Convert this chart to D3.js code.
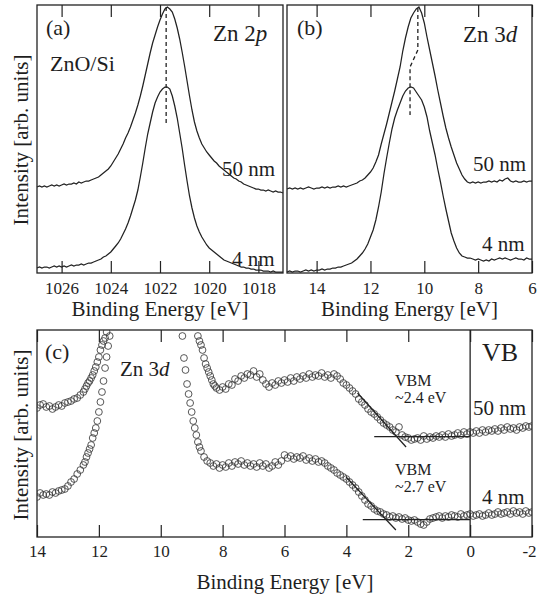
<!DOCTYPE html>
<html>
<head>
<meta charset="utf-8">
<script src="https://cdn.jsdelivr.net/npm/d3@7"></script>
<style>
  body { margin: 0; background: #fff; }
  svg text { font-family: "Liberation Serif", "Times New Roman", serif; fill: #1e1e1e; }
</style>
</head>
<body>
<svg id="chart" width="538" height="595" font-family="Liberation Serif, Times New Roman, serif"></svg>
<script>
// ---- data (intensity in arb. units) ----

// (a) Zn 2p, binding energy 1027.0 -> 1017.0 eV, step 0.1 eV
const zn2pStart = 1027.0, zn2pStep = -0.1;
const zn2p50nm = [
  86,87,86,87,86,87,88,87,88,87, 88,89,88,89,89,90,89,91,90,91,
  92,92,93,94,95,96,98,100,102,104, 107,111,115,119,124,129,135,140,146,153,
  160,168,177,187,198,209,220,230,238,246, 253,259,264,266,264,261,254,245,234,221,
  207,192,177,163,151,142,135,129,125,121, 118,115,112,110,107,105,103,101,99,97,
  95,94,92,91,89,88,87,86,85,84, 84,83,83,82,83,82,81,82,81,81, 80
];
const zn2p4nm = [
  5,6,5,6,6,5,6,7,6,7, 6,7,6,7,8,7,8,8,9,8,
  9,10,10,11,12,13,14,16,17,19, 21,24,27,30,34,39,44,50,57,65,
  73,83,96,110,125,139,150,161,170,176, 181,184,186,186,184,177,167,155,140,125,
  108,92,77,65,55,47,41,36,32,28, 25,23,21,19,17,15,13,12,11,10,
  9,8,7,6,6,5,5,4,4,3, 3,3,2,2,2,1,2,1,1,1, 1
];
const zn2pPeakLine = [[1021.75, 266], [1021.75, 148]];

// (b) Zn 3d, binding energy 15.1 -> 6.0 eV, step 0.1 eV
const zn3dStart = 15.1, zn3dStep = -0.1;
const zn3d50nm = [
  84,85,84,85,84,85,84,85,86,85, 84,85,85,86,85,86,85,86,86,87,
  86,87,86,87,88,89,90,92,93,95, 98,101,105,111,118,129,139,149,160,171,
  182,194,206,222,235,246,255,260,264,266, 260,250,236,223,210,197,183,170,157,145,
  135,126,118,110,104,98,94,91,90,91, 90,91,90,91,91,92,91,92,91,93,
  92,94,95,92,91,92,91,91,92,91, 92,92
];
const zn3d4nm = [
  1,2,1,2,2,1,2,3,2,3, 2,3,3,4,3,4,4,5,5,6,
  6,7,8,9,10,12,14,17,20,24, 29,36,43,53,66,81,99,115,130,144,
  155,163,170,177,182,185,186,185,181,177, 173,166,156,142,130,118,104,91,77,64,
  52,40,32,25,20,17,16,15,15,14, 13,14,13,12,13,12,14,13,14,15,
  14,15,14,13,14,15,14,14,13,15, 14,14
];
const zn3dPeakLine = [[10.24, 265], [10.24, 223], [10.53, 206], [10.53, 158]];

// (c) valence band, [binding energy, intensity]
const vb50nm = [
  [14.0,129],[13.9,132],[13.8,133],[13.7,130],[13.6,131],[13.5,128],[13.4,130],[13.3,132],[13.2,131],[13.1,134],
  [13.0,135],[12.9,136],[12.8,138],[12.7,139],[12.6,142],[12.5,145],[12.45,148],[12.4,151],[12.35,154],[12.3,156],
  [12.25,159],[12.2,162],[12.15,166],[12.1,170],[12.05,175],[12.0,180],[11.95,187],[11.9,192],[11.85,196],[11.8,199],[11.75,205],
  [8.8,201],[8.75,196],[8.7,192],[8.65,187],[8.6,179],[8.55,173],[8.5,169],[8.45,165],[8.4,161],[8.35,157],
  [8.3,153],[8.25,151],[8.2,149],[8.1,147],[8.0,150],[7.9,148],[7.8,153],[7.7,152],[7.6,158],[7.5,156],
  [7.4,161],[7.3,159],[7.2,163],[7.1,162],[7.0,166],[6.9,160],[6.8,163],[6.7,157],[6.6,153],[6.5,150],
  [6.4,154],[6.3,152],[6.2,156],[6.1,154],[6.0,157],[5.9,155],[5.8,159],[5.7,156],[5.6,160],[5.5,158],
  [5.4,161],[5.3,159],[5.2,163],[5.1,160],[5.0,162],[4.9,161],[4.8,164],[4.7,160],[4.6,162],[4.5,159],
  [4.4,163],[4.3,161],[4.2,158],[4.1,154],[4.0,152],[3.9,149],[3.8,146],[3.7,143],[3.6,138],[3.5,135],
  [3.4,132],[3.3,128],[3.2,125],[3.1,123],[3.0,120],[2.9,117],[2.8,114],[2.7,112],[2.6,110],[2.5,107],
  [2.4,105],[2.3,110],[2.2,102],[2.1,100],[2.0,99],[1.9,97],[1.8,98],[1.7,99],[1.6,97],[1.5,101],
  [1.4,98],[1.3,100],[1.2,99],[1.1,101],[1.0,100],[0.9,102],[0.8,100],[0.7,103],[0.6,101],[0.5,102],
  [0.4,104],[0.3,102],[0.2,105],[0.1,103],[0.0,105],[-0.1,104],[-0.2,106],[-0.3,104],[-0.4,107],[-0.5,105],
  [-0.6,107],[-0.7,106],[-0.8,108],[-0.9,106],[-1.0,109],[-1.1,107],[-1.2,110],[-1.3,108],[-1.4,109],[-1.5,107],
  [-1.6,110],[-1.7,109],[-1.8,111],[-1.9,110],[-2.0,111]
];
const vb4nm = [
  [14.0,40],[13.9,44],[13.8,42],[13.7,43],[13.6,42],[13.5,45],[13.4,44],[13.3,46],[13.2,47],[13.1,48],
  [13.0,51],[12.9,55],[12.8,58],[12.7,63],[12.6,67],[12.5,72],[12.45,75],[12.4,80],[12.35,84],[12.3,88],
  [12.25,92],[12.2,99],[12.15,104],[12.1,109],[12.05,116],[12.0,125],[11.95,135],[11.9,145],[11.85,156],[11.8,169],
  [11.75,180],[11.7,191],[11.65,201],
  [9.3,201],[9.25,179],[9.2,167],[9.15,153],[9.1,143],[9.05,134],[9.0,125],[8.95,116],[8.9,109],[8.85,102],
  [8.8,95],[8.75,90],[8.7,86],[8.6,80],[8.5,76],[8.4,74],[8.3,71],[8.2,73],[8.1,69],[8.0,72],
  [7.9,70],[7.8,74],[7.7,71],[7.6,75],[7.5,73],[7.4,76],[7.3,72],[7.2,74],[7.1,71],[7.0,73],
  [6.9,70],[6.8,74],[6.7,71],[6.6,73],[6.5,69],[6.4,71],[6.3,75],[6.2,72],[6.1,76],[6.0,82],
  [5.9,79],[5.8,81],[5.7,78],[5.6,80],[5.5,79],[5.4,81],[5.3,77],[5.2,79],[5.1,76],[5.0,78],
  [4.9,75],[4.8,76],[4.7,74],[4.6,71],[4.5,69],[4.4,67],[4.3,64],[4.2,62],[4.1,60],[4.0,58],
  [3.9,55],[3.8,52],[3.7,49],[3.6,45],[3.5,41],[3.4,37],[3.3,33],[3.2,31],[3.1,28],[3.0,26],
  [2.9,25],[2.8,23],[2.7,22],[2.6,20],[2.5,21],[2.4,19],[2.3,20],[2.2,18],[2.1,19],[2.0,17],
  [1.9,16],[1.8,17],[1.7,15],[1.6,13],[1.5,12],[1.4,15],[1.3,18],[1.2,19],[1.1,20],[1.0,21],
  [0.9,19],[0.8,21],[0.7,20],[0.6,22],[0.5,21],[0.4,20],[0.3,23],[0.2,21],[0.1,22],[0.0,23],
  [-0.1,21],[-0.2,22],[-0.3,23],[-0.4,21],[-0.5,22],[-0.6,24],[-0.7,22],[-0.8,23],[-0.9,25],[-1.0,23],
  [-1.1,24],[-1.2,25],[-1.3,23],[-1.4,26],[-1.5,24],[-1.6,25],[-1.7,23],[-1.8,26],[-1.9,24],[-2.0,25]
];
// linear fits used for the VBM estimate
const vbmFits = [
  [[3.64, 144], [2.07, 90]],
  [[3.10, 100.3], [0, 100.3]],
  [[4.01, 60], [2.40, 7]],
  [[3.47, 17.5], [0, 17.5]]
];

const zn2pTicks = [1026, 1024, 1022, 1020, 1018];
const zn3dTicks = [14, 12, 10, 8, 6];
const vbTicks = [14, 12, 10, 8, 6, 4, 2, 0, -2];

// ---- drawing ----
const ink = "#222";
const serif = "Liberation Serif, Times New Roman, serif";
const svg = d3.select("#chart");

function gridSeries(start, step, values) {
  return values.map((v, i) => [+(start + i * step).toFixed(2), v]);
}

function makePanel(box, xDomain, yDomain, ticks, tickPad) {
  const x = d3.scaleLinear().domain(xDomain).range([box.x0, box.x1]);
  const y = d3.scaleLinear().domain(yDomain).range([box.y1, box.y0]);

  svg.append("g")
    .attr("transform", `translate(0,${box.y1})`)
    .call(d3.axisBottom(x).tickValues(ticks).tickSize(-12).tickPadding(tickPad).tickFormat(d => String(d)))
    .call(g => g.select(".domain").remove())
    .call(g => g.selectAll("line").attr("stroke", ink).attr("stroke-width", 1.2))
    .call(g => g.selectAll("text").attr("font-size", 17).attr("font-family", serif).attr("fill", ink));

  svg.append("g")
    .attr("transform", `translate(0,${box.y0})`)
    .call(d3.axisTop(x).tickValues(ticks).tickSize(-12).tickFormat(""))
    .call(g => g.select(".domain").remove())
    .call(g => g.selectAll("line").attr("stroke", ink).attr("stroke-width", 1.2));

  svg.append("rect")
    .attr("x", box.x0).attr("y", box.y0)
    .attr("width", box.x1 - box.x0).attr("height", box.y1 - box.y0)
    .attr("fill", "none").attr("stroke", ink).attr("stroke-width", 1.3);

  return { x, y };
}

function drawLine(p, data, dash) {
  svg.append("path")
    .datum(data)
    .attr("fill", "none")
    .attr("stroke", ink)
    .attr("stroke-width", dash ? 1.3 : 1.25)
    .attr("stroke-dasharray", dash ? "4,3" : null)
    .attr("d", d3.line().x(d => p.x(d[0])).y(d => p.y(d[1])));
}

function label(x, y, size, parts, anchor) {
  const t = svg.append("text")
    .attr("x", x).attr("y", y)
    .attr("font-size", size)
    .attr("font-family", serif)
    .attr("text-anchor", anchor || "start");
  parts.forEach(part => {
    if (typeof part === "string") t.append("tspan").text(part);
    else t.append("tspan").attr("font-style", "italic").text(part.i);
  });
  return t;
}

// panel (a)
const pa = makePanel({ x0: 37, x1: 283, y0: 5, y1: 273 }, [1027, 1017], [0, 268], zn2pTicks, 9);
drawLine(pa, gridSeries(zn2pStart, zn2pStep, zn2p50nm));
drawLine(pa, gridSeries(zn2pStart, zn2pStep, zn2p4nm));
drawLine(pa, zn2pPeakLine, true);

// panel (b)
const pb = makePanel({ x0: 287, x1: 532, y0: 5, y1: 273 }, [15.1, 6], [0, 268], zn3dTicks, 9);
drawLine(pb, gridSeries(zn3dStart, zn3dStep, zn3d50nm));
drawLine(pb, gridSeries(zn3dStart, zn3dStep, zn3d4nm));
drawLine(pb, zn3dPeakLine, true);

// panel (c)
const pc = makePanel({ x0: 37, x1: 532, y0: 330, y1: 537 }, [14, -2], [0, 207], vbTicks, 8);
// last tick label sits on the page edge, nudge it in
svg.selectAll(".tick text").filter(d => d === -2).attr("dx", -3);

svg.append("clipPath").attr("id", "clipC")
  .append("rect").attr("x", 37).attr("y", 330).attr("width", 495).attr("height", 207);

const dots = svg.append("g").attr("clip-path", "url(#clipC)");
[vb50nm, vb4nm].forEach(series => {
  dots.append("g")
    .selectAll("circle")
    .data(series)
    .join("circle")
    .attr("cx", d => pc.x(d[0]))
    .attr("cy", d => pc.y(d[1]))
    .attr("r", 3.4)
    .attr("fill", "none")
    .attr("stroke", "#3a3a3a")
    .attr("stroke-width", 0.85);
});

svg.append("line")
  .attr("x1", pc.x(0)).attr("x2", pc.x(0))
  .attr("y1", pc.y(0)).attr("y2", pc.y(207))
  .attr("stroke", ink).attr("stroke-width", 1.3);

vbmFits.forEach(f => drawLine(pc, f));

// texts
label(46, 35, 22, ["(a)"]);
label(50, 71, 22, ["ZnO/Si"]);
label(213, 41, 23, ["Zn 2", { i: "p" }]);
label(222, 176, 21, ["50 nm"]);
label(232, 266, 21, ["4 nm"]);

label(297, 35, 22, ["(b)"]);
label(463, 42, 23, ["Zn 3", { i: "d" }]);
label(473, 171, 21, ["50 nm"]);
label(482, 251, 21, ["4 nm"]);

label(45, 359, 22, ["(c)"]);
label(120, 376, 21, ["Zn 3", { i: "d" }]);
label(395, 386, 16, ["VBM"]);
label(395, 403, 16, ["~2.4 eV"]);
label(395, 475, 16, ["VBM"]);
label(395, 492, 16, ["~2.7 eV"]);
label(482, 361, 26, ["VB"]);
label(473, 415, 21, ["50 nm"]);
label(482, 504, 21, ["4 nm"]);

label(160, 316, 21, ["Binding Energy [eV]"], "middle");
label(409.5, 316, 21, ["Binding Energy [eV]"], "middle");
label(285, 589, 21, ["Binding Energy [eV]"], "middle");

label(0, 0, 21, ["Intensity [arb. units]"], "middle").attr("transform", "translate(28,140) rotate(-90)");
label(0, 0, 21, ["Intensity [arb. units]"], "middle").attr("transform", "translate(28,435) rotate(-90)");
</script>
</body>
</html>
